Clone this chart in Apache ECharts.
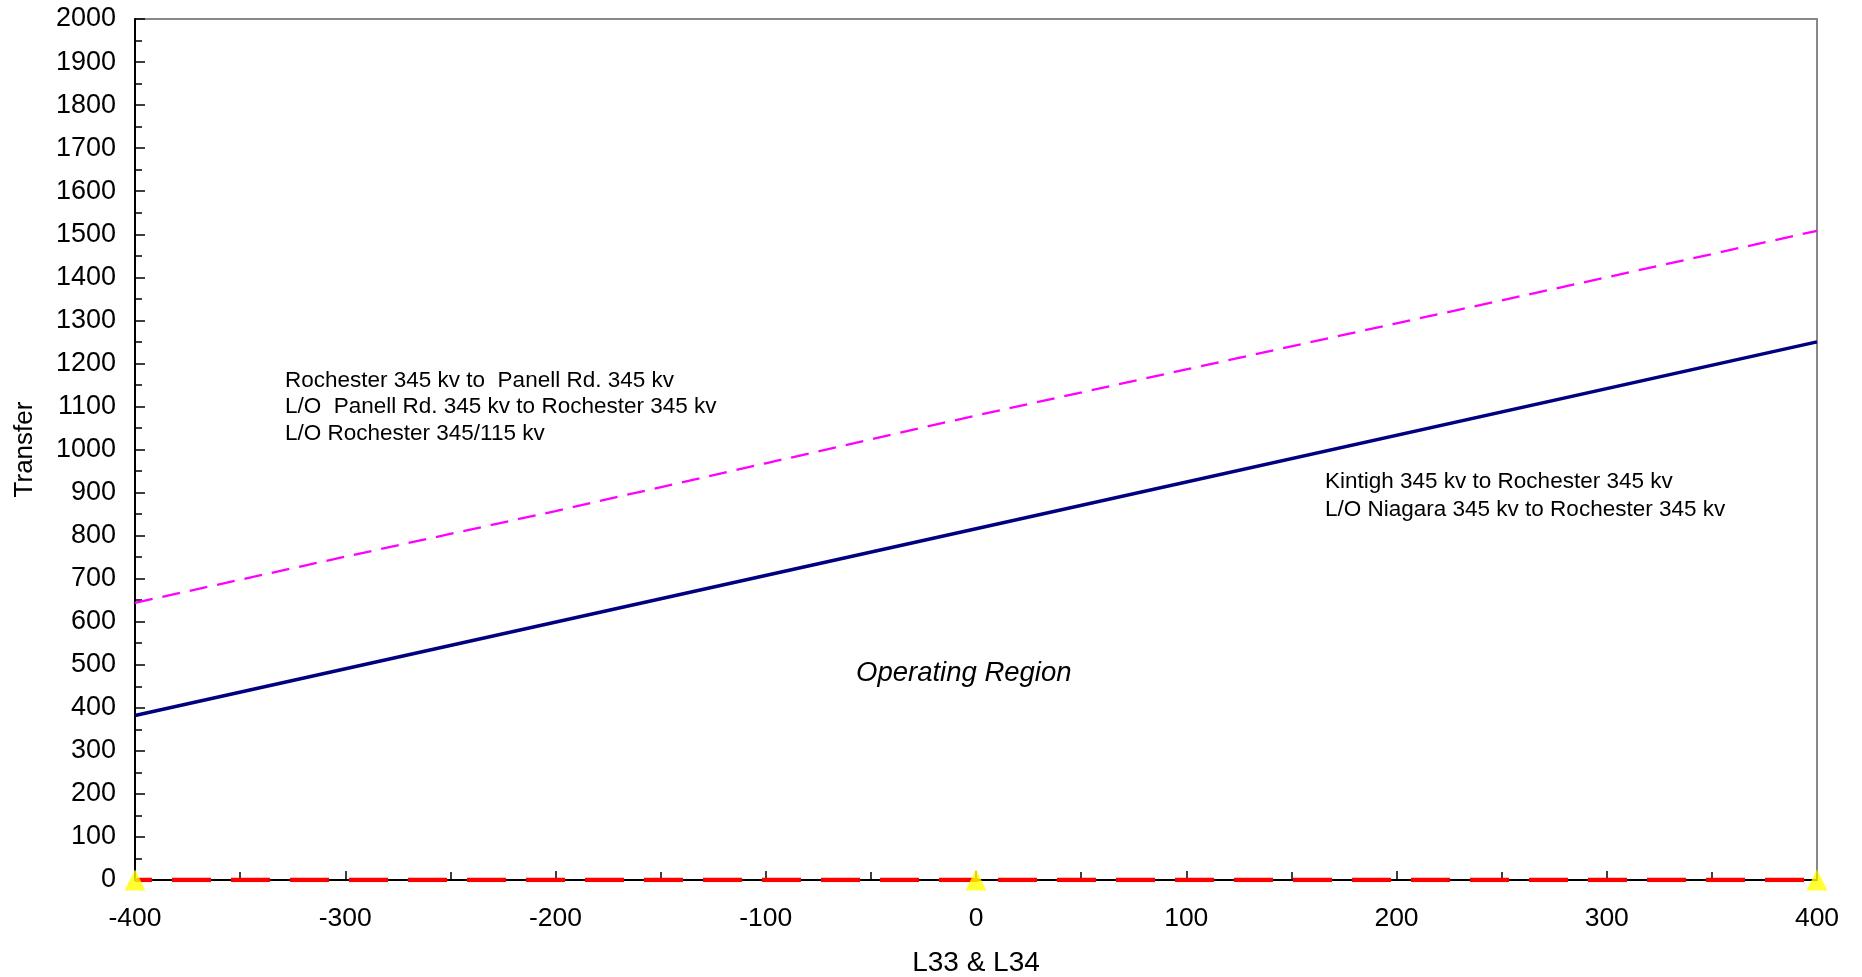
<!DOCTYPE html>
<html>
<head>
<meta charset="utf-8">
<script src="https://cdn.jsdelivr.net/npm/echarts@6/dist/echarts.min.js"></script>
<style>
  html, body { margin: 0; padding: 0; background: #fff; }
  #chart { width: 1862px; height: 977px; }
</style>
</head>
<body>
<div id="chart"></div>
<script>
// values
var limitX = [-400, 0, 400];
var kintighLimit = [382, 816, 1250];
var panellX = [-400, -300, -200, -100, 0, 100, 200, 300, 400];
var panellLimit = [644, 751, 857, 968, 1079, 1186, 1293, 1400, 1508];
var zeroX = [-400, 400];
var zeroY = [0, 0];
var markerX = [-400, 0, 400];
var markerY = [0, 0, 0];

function pairs(xs, ys) {
  return xs.map(function (x, i) { return [x, ys[i]]; });
}

var font = "'Liberation Sans', Arial, sans-serif";
var chart = echarts.init(document.getElementById("chart"));

var option = {
  animation: false,
  backgroundColor: "#fff",
  textStyle: { fontFamily: font },
  grid: {
    left: 135,
    right: 45,
    top: 19,
    bottom: 97,
    outerBoundsMode: "none",
    show: true,
    borderColor: "#888",
    borderWidth: 2
  },
  xAxis: {
    type: "value",
    min: -400,
    max: 400,
    interval: 100,
    name: "L33 & L34",
    nameLocation: "middle",
    nameGap: 69,
    nameTextStyle: { fontSize: 28, color: "#000", fontFamily: font },
    axisLine: { onZero: false, lineStyle: { color: "#000", width: 2 } },
    axisTick: { inside: true, length: 9, lineStyle: { color: "#000", width: 1.5 } },
    minorTick: { show: true, splitNumber: 2, length: 8, lineStyle: { color: "#000", width: 1.5 } },
    axisLabel: { fontSize: 26.5, color: "#000", margin: 25, fontFamily: font },
    splitLine: { show: false }
  },
  yAxis: {
    type: "value",
    min: 0,
    max: 2000,
    interval: 100,
    name: "Transfer",
    nameLocation: "middle",
    nameGap: 97,
    nameTextStyle: { fontSize: 26, color: "#000", fontFamily: font },
    axisLine: { onZero: false, lineStyle: { color: "#000", width: 2 } },
    axisTick: { inside: true, length: 10, lineStyle: { color: "#000", width: 1.5 } },
    minorTick: { show: true, splitNumber: 2, length: 7, lineStyle: { color: "#000", width: 1.5 } },
    axisLabel: {
      fontSize: 27,
      color: "#000",
      margin: 19,
      fontFamily: font,
      formatter: function (v) { return String(v); }
    },
    splitLine: { show: false }
  },
  series: [
    {
      name: "Kintigh",
      type: "line",
      data: pairs(limitX, kintighLimit),
      showSymbol: false,
      lineStyle: { color: "#000080", width: 3.5 }
    },
    {
      name: "Panell",
      type: "line",
      data: pairs(panellX, panellLimit),
      showSymbol: false,
      lineStyle: { color: "#ff00ff", width: 2.3, type: [18, 10] }
    },
    {
      name: "zero",
      type: "line",
      data: pairs(zeroX, zeroY),
      showSymbol: false,
      lineStyle: { color: "#ff0000", width: 4.5, type: [39, 20], dashOffset: 22 },
      z: 3
    },
    {
      name: "markers",
      type: "scatter",
      data: pairs(markerX, markerY),
      symbol: "triangle",
      symbolSize: [21, 21],
      itemStyle: { color: "#ffff00" },
      clip: false,
      z: 5
    }
  ],
  graphic: [
    {
      type: "text",
      left: 285,
      top: 367,
      style: {
        text: "Rochester 345 kv to  Panell Rd. 345 kv\nL/O  Panell Rd. 345 kv to Rochester 345 kv\nL/O Rochester 345/115 kv",
        font: "22.5px " + font,
        lineHeight: 26.7,
        fill: "#000"
      }
    },
    {
      type: "text",
      left: 1325,
      top: 468,
      style: {
        text: "Kintigh 345 kv to Rochester 345 kv\nL/O Niagara 345 kv to Rochester 345 kv",
        font: "22.5px " + font,
        lineHeight: 27.7,
        fill: "#000"
      }
    },
    {
      type: "text",
      left: 856,
      top: 660,
      style: {
        text: "Operating Region",
        font: "italic 27.5px " + font,
        fill: "#000"
      }
    }
  ]
};

chart.setOption(option);
</script>
</body>
</html>
